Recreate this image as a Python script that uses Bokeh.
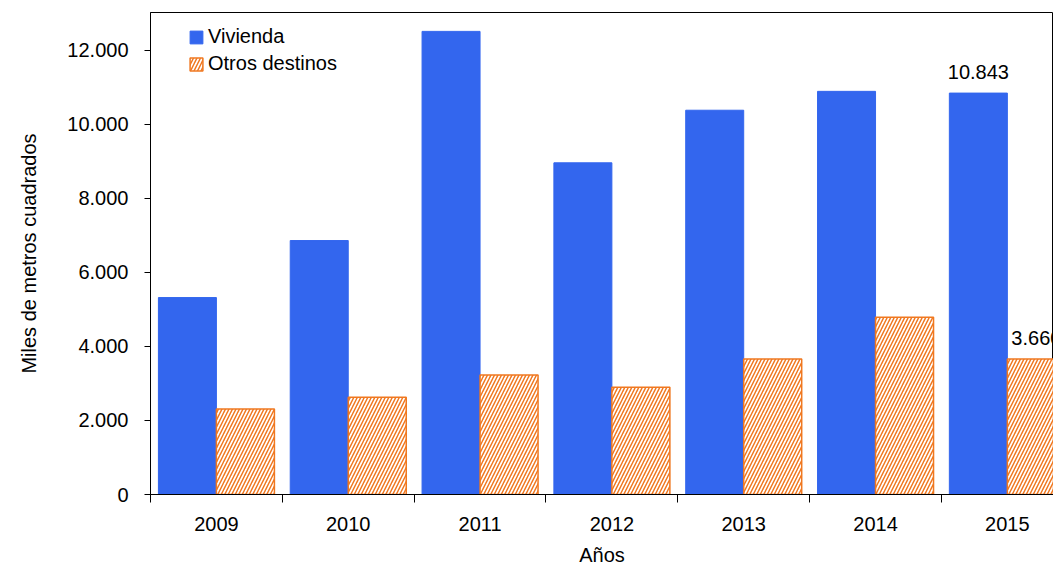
from bokeh.plotting import figure
from bokeh.models import FixedTicker, Label, CustomJSTickFormatter, Range1d, Legend, LegendItem
from bokeh.embed import file_html
from bokeh.resources import INLINE

years = ["2009", "2010", "2011", "2012", "2013", "2014", "2015"]
vivienda = [5320, 6860, 12510, 8960, 10380, 10890, 10843]
otros = [2310, 2630, 3230, 2900, 3660, 4790, 3660]

FONT = "Liberation Sans"
BLUE = "#3366EE"
ORANGE = "#F07820"

p = figure(width=1053, height=568, output_backend="svg", toolbar_location=None,
           x_range=Range1d(0, 6.85), y_range=Range1d(0, 13020),
           min_border_left=150, min_border_right=0, min_border_top=12, min_border_bottom=60)

xc = [i + 0.5 for i in range(len(years))]
r1 = p.vbar(x=[x - 0.22 for x in xc], top=vivienda, width=0.44, fill_color=BLUE, line_color=BLUE)
r2 = p.vbar(x=[x + 0.22 for x in xc], top=otros, width=0.44, fill_color="white", line_color=ORANGE,
            line_width=1.5, hatch_pattern="/", hatch_color=ORANGE, hatch_scale=7, hatch_weight=1.5)

for x, y, t in [(xc[6] - 0.22, vivienda[6], "10.843"), (xc[6] + 0.22, otros[6], "3.660")]:
    p.add_layout(Label(x=x, y=y, y_offset=14, text=t, text_align="center", text_color="black",
                       text_font=FONT, text_font_size="20px"))

legend = Legend(items=[LegendItem(label="Vivienda", renderers=[r1]),
                       LegendItem(label="Otros destinos", renderers=[r2])],
                border_line_color=None, background_fill_alpha=0,
                label_text_font=FONT, label_text_font_size="20px", label_text_color="black",
                glyph_width=16, glyph_height=16,
                label_standoff=4, spacing=4, margin=0, padding=0)
legend.location = (38, 419)
p.add_layout(legend)

p.xaxis.ticker = FixedTicker(ticks=xc, minor_ticks=list(range(8)))
p.xaxis.formatter = CustomJSTickFormatter(code="return %s[Math.round(tick-0.5)];" % str(years))
p.xaxis.major_tick_line_color = None
p.xaxis.minor_tick_out = 8
p.xaxis.minor_tick_in = 0
p.xaxis.major_label_standoff = 14
p.xaxis.axis_label = "Años"
p.xaxis.axis_label_standoff = 10

p.yaxis.ticker = FixedTicker(ticks=list(range(0, 12001, 2000)))
p.yaxis.formatter = CustomJSTickFormatter(code="return tick.toLocaleString('de-DE');")
p.yaxis.minor_tick_line_color = None
p.yaxis.major_tick_out = 6
p.yaxis.major_tick_in = 0
p.yaxis.major_label_standoff = 16
p.yaxis.axis_label = "Miles de metros cuadrados"
p.yaxis.axis_label_standoff = 24

for ax in (p.xaxis, p.yaxis):
    ax.axis_line_color = "black"
    ax.major_label_text_font = FONT
    ax.major_label_text_font_size = "20px"
    ax.major_label_text_color = "black"
    ax.axis_label_text_font = FONT
    ax.axis_label_text_font_size = "20px"
    ax.axis_label_text_font_style = "normal"
    ax.axis_label_text_color = "black"

p.grid.grid_line_color = None
p.outline_line_color = "black"

open("out.html", "w").write(file_html(p, INLINE))
